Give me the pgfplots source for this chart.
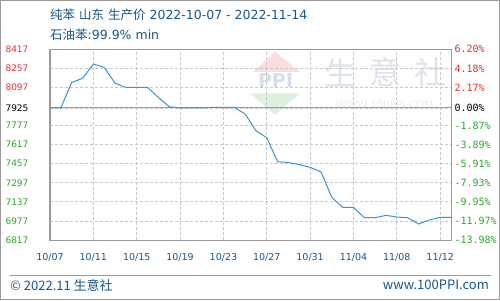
\documentclass[border=0pt]{standalone}
\usepackage{pgfplots}
\pgfplotsset{compat=1.18}
\usepackage{fontspec}
\setmainfont{DejaVu Sans}
\newfontfamily\cjk{Noto Sans CJK SC}
\newfontfamily\mono{DejaVu Sans Mono}
\definecolor{titleblue}{RGB}{22,88,140}
\definecolor{lblred}{RGB}{235,45,45}
\definecolor{lblgreen}{RGB}{40,170,40}
\definecolor{linecol}{RGB}{55,150,215}
\definecolor{gridcol}{RGB}{200,200,200}
\definecolor{axcol}{RGB}{155,155,155}
\definecolor{wmpink}{RGB}{250,222,222}
\definecolor{wmblue}{RGB}{214,222,238}
\definecolor{wmgreen}{RGB}{222,241,222}
\definecolor{wmtext}{RGB}{222,226,236}
\definecolor{wmurl}{RGB}{236,236,236}
\begin{document}
\begin{tikzpicture}[x=1pt,y=1pt]
\useasboundingbox (0,0) rectangle (500,300);
\fill[white] (0,0) rectangle (500,300);
\draw[axcol, line width=1pt] (0.5,0.5) rectangle (499.5,299.5);
% watermark
\fill[wmpink] (253,228) -- (275,248.3) -- (300,228) -- cycle;
\node[text=wmblue, font=\bfseries\fontsize{19}{19}\selectfont] at (275.5,219) {PPI};
\fill[wmgreen] (250,206.7) -- (300,206.7) -- (275,185) -- cycle;
\node[text=wmtext, font=\cjk\fontsize{32}{32}\selectfont] at (340,227.5) {生};
\node[text=wmtext, font=\cjk\fontsize{32}{32}\selectfont] at (385,227.5) {意};
\node[text=wmtext, font=\cjk\fontsize{32}{32}\selectfont] at (430,227.5) {社};
\node[text=wmurl, font=\fontsize{10.5}{11}\selectfont] at (385,195) {WWW.100PPI.COM};
% titles
\node[anchor=west, text=titleblue, font=\fontsize{12.5}{13}\selectfont, inner sep=0pt] at (50,285) {{\cjk 纯苯} {\cjk 山东} {\cjk 生产价} 2022-10-07 - 2022-11-14};
\node[anchor=west, text=titleblue, font=\fontsize{12.5}{13}\selectfont, inner sep=0pt] at (50,265) {{\cjk 石油苯}:99.9\% min};
% footer
\draw[axcol, line width=1pt] (10,25) -- (491,25);
\node[anchor=west, text=titleblue, font=\cjk\fontsize{13}{13}\selectfont, inner sep=0pt] at (10,15) {© 2022.11 生意社};
\node[anchor=east, text=titleblue, font=\cjk\fontsize{13}{13}\selectfont, inner sep=0pt] at (489,15) {www.100PPI.com};
\begin{axis}[
  at={(50pt,60pt)}, anchor=south west, scale only axis,
  width=401pt, height=190.7pt,
  xmin=0, xmax=37, ymin=6817, ymax=8417,
  axis line style={axcol, line width=1pt},
  major tick length=0pt,
  xtick={0,4,...,36},
  xticklabels={10/07,10/11,10/15,10/19,10/23,10/27,10/31,11/04,11/08,11/12},
  xticklabel style={font=\fontsize{9.5}{10}\selectfont, text=titleblue, anchor=center, yshift=-17pt},
  ytick={6817,6977,7137,7297,7457,7617,7777,7925,8097,8257,8417},
  yticklabels={{\color{lblgreen}6817},{\color{lblgreen}6977},{\color{lblgreen}7137},{\color{lblgreen}7297},{\color{lblgreen}7457},{\color{lblgreen}7617},{\color{lblgreen}7777},{\color{black}7925},{\color{lblred}8097},{\color{lblred}8257},{\color{lblred}8417}},
  yticklabel style={font=\fontsize{9}{10}\selectfont, anchor=west, xshift=-48pt},
  grid=major,
  grid style={gridcol, dash pattern=on 3pt off 2pt, line width=0.8pt},
]
\addplot[axcol, line width=1pt, forget plot] coordinates {(0,7925) (37,7925)};
\addplot[linecol, line width=1pt] coordinates {
(0,7925) (1,7925) (2,8139) (3,8173) (4,8293) (5,8265) (6,8133) (7,8097) (8,8097) (9,8097)
(10,8013) (11,7935) (12,7925) (13,7925) (14,7925) (15,7929) (16,7929) (17,7929) (18,7875) (19,7734)
(20,7675) (21,7474) (22,7467) (23,7450) (24,7427) (25,7390) (26,7175) (27,7091) (28,7091) (29,7004)
(30,7004) (31,7024) (32,7010) (33,7004) (34,6951) (35,6985) (36,7007) (37,7007)
};
\end{axis}
\begin{axis}[
  at={(50pt,60pt)}, anchor=south west, scale only axis,
  width=401pt, height=190.7pt,
  xmin=0, xmax=37, ymin=6817, ymax=8417,
  hide x axis,
  axis line style={draw=none},
  major tick length=0pt,
  yticklabel pos=right,
  ytick={6817,6977,7137,7297,7457,7617,7777,7925,8097,8257,8417},
  yticklabels={{\color{lblgreen}-13.98\%},{\color{lblgreen}-11.97\%},{\color{lblgreen}-9.95\%},{\color{lblgreen}-7.93\%},{\color{lblgreen}-5.91\%},{\color{lblgreen}-3.89\%},{\color{lblgreen}-1.87\%},{\color{black}0.00\%},{\color{lblred}2.17\%},{\color{lblred}4.18\%},{\color{lblred}6.20\%}},
  yticklabel style={font=\mono\fontsize{10}{10}\selectfont, anchor=west},
]
\addplot[draw=none] coordinates {(0,7000) (37,7000)};
\end{axis}
\end{tikzpicture}
\end{document}
